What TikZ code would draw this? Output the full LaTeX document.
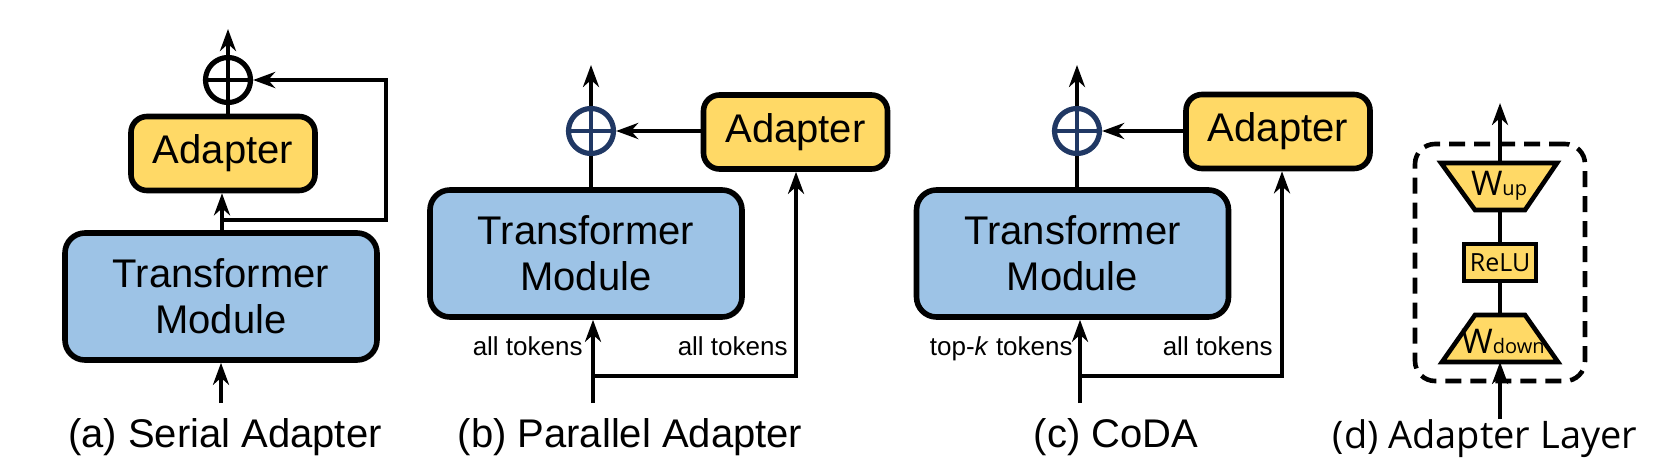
\documentclass[tikz,border=0pt]{standalone}
\usepackage{fontspec}
\setmainfont{Liberation Sans}
\newfontfamily\dfont{Open Sans}
\usetikzlibrary{arrows.meta}
\definecolor{tblue}{HTML}{9DC3E6}
\definecolor{ayel}{HTML}{FFD966}
\definecolor{navy}{HTML}{203864}
\begin{document}
\begin{tikzpicture}[x=0.5pt,y=-0.5pt,
  conn/.style={line width=2.3pt, -{Stealth[length=11pt,width=8pt,inset=3.5pt]}},
  line/.style={line width=2.3pt},
  tmbox/.style={draw, line width=2.8pt, rounded corners=10pt, fill=tblue, minimum width=156pt, minimum height=63.5pt, inner sep=0pt, align=center, font=\fontsize{20}{23}\selectfont},
  adbox/.style={draw, line width=2.8pt, rounded corners=8pt, fill=ayel, minimum width=92pt, minimum height=37pt, inner sep=0pt, font=\fontsize{20}{23}\selectfont},
  plus/.style={circle, draw, line width=2.6pt, minimum size=22.5pt, inner sep=0pt},
  tok/.style={inner sep=0pt, font=\fontsize{13}{15}\selectfont, anchor=base east},
  captext/.style={inner sep=0pt, anchor=base, font=\fontsize{20}{23}\selectfont},
  relubox/.style={draw, line width=2.3pt, fill=ayel, minimum width=36pt, minimum height=18.5pt, inner sep=0pt, font=\dfont\fontsize{12.5}{14}\selectfont},
  trap/.style={draw, line width=2.3pt, fill=ayel, line join=miter},
  wlabel/.style={anchor=base, inner sep=0pt, font=\dfont\fontsize{17}{19}\selectfont},
]
\useasboundingbox (0,0) rectangle (1674,472);

% ---------- (a) Serial Adapter ----------
\node[tmbox] (tma) at (221,296.5) {Transformer\\Module};
\node[adbox] (ada) at (223,153.5) {Adapter};
\node[plus] (pa) at (228,80) {};
\draw[line] (pa.west) -- (pa.east);
\coordinate (ta) at (228,29);
\draw[conn] (ada.north -| pa) -- (ta);
\coordinate (ina) at (221,403);
\draw[conn] (ina) -- (tma.south);
\coordinate (sa) at (222,220);
\draw[conn] (tma.north -| sa) -- (ada.south -| sa);
\coordinate (fa1) at (386,220);
\coordinate (fa2) at (386,80);
\draw[conn] (sa) -- (fa1) -- (fa2) -- (pa.east);
\node[captext] (capa) at (225,447) {(a) Serial Adapter};

% ---------- (b) Parallel Adapter ----------
\node[tmbox] (tmb) at (586,253.5) {Transformer\\Module};
\node[adbox] (adb) at (795.5,132) {Adapter};
\node[plus, draw=navy] (pb) at (591,131) {};
\draw[line, navy] (pb.west) -- (pb.east) (pb.north) -- (pb.south);
\coordinate (tb) at (591,65);
\draw[line] (tmb.north -| pb) -- (pb.south);
\draw[conn] (pb.north) -- (tb);
\draw[conn] (pb.east -| adb.west) -- (pb.east);
\coordinate (inb) at (593,403);
\coordinate (sb) at (593,376);
\coordinate (sb2) at (796,376);
\draw[conn] (inb) -- (tmb.south -| inb);
\draw[conn] (sb) -- (sb2) -- (adb.south -| sb2);
\node[tok] (lb1) at (583,355) {all tokens};
\node[tok] (lb2) at (788,355) {all tokens};
\node[captext] (capb) at (630,447) {(b) Parallel Adapter};

% ---------- (c) CoDA ----------
\node[tmbox] (tmc) at (1072.5,253.5) {Transformer\\Module};
\node[adbox] (adc) at (1278,131.5) {Adapter};
\node[plus, draw=navy] (pc) at (1077,131) {};
\draw[line, navy] (pc.west) -- (pc.east) (pc.north) -- (pc.south);
\coordinate (tc) at (1077,65);
\draw[line] (tmc.north -| pc) -- (pc.south);
\draw[conn] (pc.north) -- (tc);
\draw[conn] (pc.east -| adc.west) -- (pc.east);
\coordinate (inc) at (1080,403);
\coordinate (sc) at (1080,376);
\coordinate (sc2) at (1282,376);
\draw[conn] (inc) -- (tmc.south -| inc);
\draw[conn] (sc) -- (sc2) -- (adc.south -| sc2);
\node[tok] (lc1) at (1073,355) {top-\textit{k} tokens};
\node[tok] (lc2) at (1273,355) {all tokens};
\node[captext] (capc) at (1116,447) {(c) CoDA};

% ---------- (d) Adapter Layer ----------
\node[draw, line width=2.3pt, dash pattern=on 8pt off 4.5pt, rounded corners=10pt, minimum width=85pt, minimum height=118.5pt] (dl) at (1500,262.5) {};
\draw[trap] (1441,163) -- (1557,163) -- (1525,210) -- (1475,210) -- cycle;
\coordinate (wupt) at (1500,163);
\coordinate (wupb) at (1500,210);
\node[relubox] (relu) at (1500,262.5) {ReLU};
\draw[trap] (1475,315) -- (1525,315) -- (1558,362) -- (1442,362) -- cycle;
\coordinate (wdt) at (1500,315);
\coordinate (wdb) at (1500,362);
\draw[line] (wupb) -- (relu.north);
\draw[line] (relu.south) -- (wdt);
\coordinate (td) at (1500,103);
\draw[conn] (wupt) -- (td);
\coordinate (ind) at (1500,419);
\draw[conn] (ind) -- (wdb);
\node[wlabel] (wup) at (1499,195) {W{\fontsize{10}{12}\selectfont up}};
\node[wlabel] (wdown) at (1503,353) {W{\fontsize{10}{12}\selectfont down}};
\node[inner sep=0pt, anchor=base, font=\dfont\fontsize{19}{22}\selectfont] (capd) at (1485,448) {(d) Adapter Layer};
\end{tikzpicture}
\end{document}
